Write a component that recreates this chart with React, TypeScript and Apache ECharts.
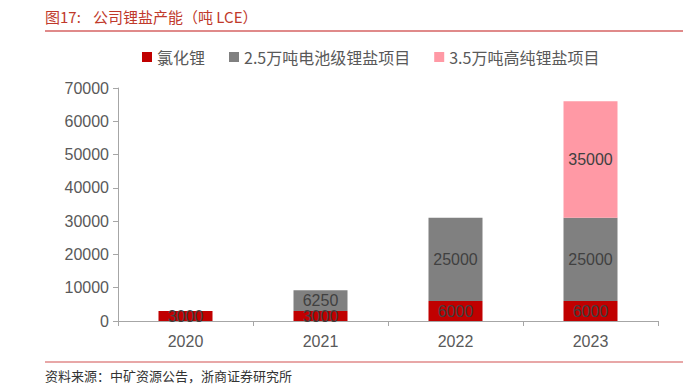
import React, { useEffect, useRef } from "react";
import * as echarts from "echarts";

const categories = ["2020", "2021", "2022", "2023"];
const licl = [3000, 3000, 6000, 6000];
const battery = [0, 6250, 25000, 25000];
const highPurity = [0, 0, 0, 35000];
const seriesNames = ["氯化锂", "2.5万吨电池级锂盐项目", "3.5万吨高纯锂盐项目"];
const colors = ["#C00000", "#808080", "#FF99A5"];

const CJK = "Noto Sans CJK SC";
const LAT = "Liberation Sans";

export default function App() {
  const ref = useRef<HTMLDivElement>(null);
  useEffect(() => {
    const chart = echarts.init(ref.current!, null, { renderer: "svg" });
    const mk = (name: string, data: number[], color: string) => ({
      name,
      type: "bar",
      stack: "total",
      barWidth: 54,
      data: data.map((v) => (v === 0 ? null : v)),
      itemStyle: { color },
      label: {
        show: true,
        position: "inside",
        color: "#404040",
        fontSize: 16,
        fontFamily: LAT,
      },
    });
    chart.setOption({
      animation: false,
      grid: { left: 118, right: 38, top: 88, bottom: 68, containLabel: false },
      legend: {
        left: 137,
        top: 44,
        icon: "rect",
        itemWidth: 10,
        itemHeight: 10,
        itemGap: 24,
        textStyle: { fontSize: 16, color: "#595959", fontFamily: CJK },
        data: seriesNames,
      },
      xAxis: {
        type: "category",
        data: categories,
        axisLine: { lineStyle: { color: "#A6A6A6" } },
        axisTick: { show: true, alignWithLabel: false, length: 5, lineStyle: { color: "#A6A6A6" } },
        axisLabel: { fontSize: 16, color: "#595959", margin: 12, fontFamily: LAT },
      },
      yAxis: {
        type: "value",
        min: 0,
        max: 70000,
        interval: 10000,
        axisLine: { show: true, lineStyle: { color: "#A6A6A6" } },
        axisTick: { show: true, length: 5, lineStyle: { color: "#A6A6A6" } },
        splitLine: { show: false },
        axisLabel: {
          fontSize: 16,
          color: "#595959",
          margin: 9,
          fontFamily: LAT,
          formatter: (v: number) => String(v),
        },
      },
      graphic: [
        {
          type: "text",
          left: 45,
          top: 9,
          style: { text: "图17:", fontSize: 15, fill: "#C0392B", fontFamily: CJK },
        },
        {
          type: "text",
          left: 93,
          top: 9,
          style: { text: "公司锂盐产能（吨 LCE）", fontSize: 15, fill: "#C0392B", fontFamily: CJK },
        },
        {
          type: "line",
          shape: { x1: 45, y1: 31, x2: 683, y2: 31 },
          style: { stroke: "#E08A8A", lineWidth: 2 },
        },
        {
          type: "line",
          shape: { x1: 45, y1: 362, x2: 683, y2: 362 },
          style: { stroke: "#E08A8A", lineWidth: 1.5 },
        },
        {
          type: "text",
          left: 45,
          top: 369,
          style: { text: "资料来源：中矿资源公告，浙商证券研究所", fontSize: 13, fill: "#333333", fontFamily: CJK },
        },
      ],
      series: [
        mk(seriesNames[0], licl, colors[0]),
        mk(seriesNames[1], battery, colors[1]),
        mk(seriesNames[2], highPurity, colors[2]),
      ],
    });
    return () => chart.dispose();
  }, []);
  return (
    <div
      ref={ref}
      style={{ position: "fixed", left: 0, top: 0, width: 696, height: 389, background: "#fff" }}
    />
  );
}
